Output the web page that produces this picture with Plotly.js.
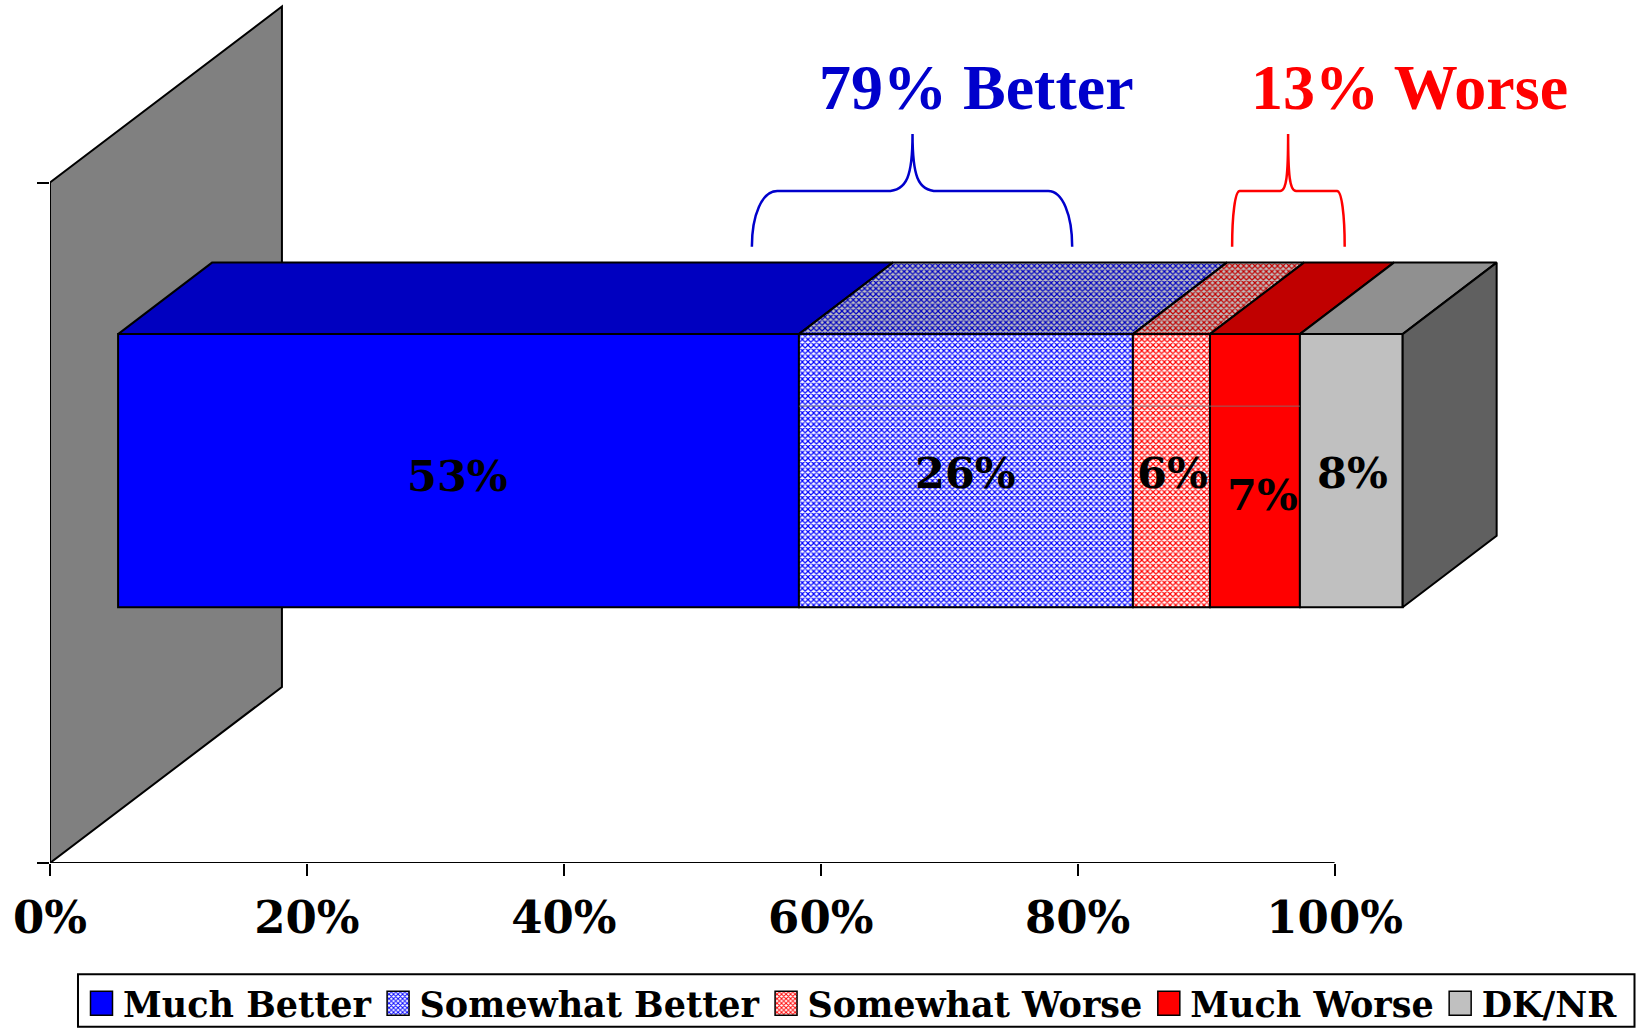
<!DOCTYPE html>
<html><head><meta charset="utf-8">
<script src="https://cdn.plot.ly/plotly-3.0.1.min.js"></script>
<style>html,body{margin:0;padding:0;background:#fff}</style></head>
<body><div id="chart" style="width:1640px;height:1028px"></div>
<script>
const categories = ["Much Better","Somewhat Better","Somewhat Worse","Much Worse","DK/NR"];
const values = [53,26,6,7,8];
const frontColors = ["#0000FF","#0000FF","#FF0000","#FF0000","#C0C0C0"];
const topColors = ["#0000C0","#0000C0","#C00000","#C00000","#909090"];
const patterned = [false,true,true,false,false];
const tickVals = [0,20,40,60,80,100];
const tickText = ["0%","20%","40%","60%","80%","100%"];
const labelShiftX = [-1,0,1,8,1];
const labelShiftY = [-5,-2,-2,-24,-2];
const summaryText = ["79% Better","13% Worse"];
const summaryColor = ["#0000CC","#FF0000"];

// geometry of the 3-D look, in axis units
const X0=49.5, PXX=12.85, Y0=862.7, PXY=680.2;
const xMax=(1640-X0)/PXX, yMax=Y0/PXY;
const ux=p=>(p-X0)/PXX, uy=p=>(Y0-p)/PXY;
const barOffset=5.3, barBottom=uy(607), barTop=uy(334);
const depthX=94/PXX, depthY=71.5/PXY, wallX=232/PXX, wallY=176/PXY;
const FONT="DejaVu Serif", SERIF="Liberation Serif";
const EDGE=2;

let cum=0; const bases=values.map(v=>{const b=cum+barOffset;cum+=v;return b;});
const end=cum+barOffset;

const traces=[];
// front faces: real bars
values.forEach((v,i)=>{
  traces.push({type:"bar",orientation:"h",name:categories[i],y:[(barTop+barBottom)/2],x:[v],base:[bases[i]],
    width:[barTop-barBottom],hoverinfo:"skip",
    marker:{color:frontColors[i],line:{color:"#000",width:EDGE},
      pattern: patterned[i]?{shape:"x",size:4,solidity:0.5,fgcolor:frontColors[i],bgcolor:"#FFFFFF",fillmode:"replace"}:{shape:""}}});
});
// top faces
values.forEach((v,i)=>{
  const b=bases[i];
  const t={type:"scatter",mode:"lines",showlegend:false,hoverinfo:"skip",fill:"toself",
    x:[b,b+depthX,b+v+depthX,b+v,b],y:[barTop,barTop+depthY,barTop+depthY,barTop,barTop],
    line:{color:"#000",width:EDGE},fillcolor:topColors[i]};
  if(patterned[i]) t.fillpattern={shape:"x",size:4,solidity:0.5,fgcolor:topColors[i],bgcolor:"#C0C0C0",fillmode:"replace"};
  traces.push(t);
});
// right side face
traces.push({type:"scatter",mode:"lines",showlegend:false,hoverinfo:"skip",fill:"toself",
  x:[end,end+depthX,end+depthX,end,end],y:[barTop,barTop+depthY,barBottom+depthY,barBottom,barTop],
  line:{color:"#000",width:EDGE},fillcolor:"#606060"});
// x axis baseline
traces.push({type:"scatter",mode:"lines",showlegend:false,hoverinfo:"skip",x:[0,100],y:[0,0],line:{color:"#000",width:2},cliponaxis:false});
// faint line across the bar
traces.push({type:"scatter",mode:"lines",showlegend:false,hoverinfo:"skip",x:[bases[1],bases[3]+values[3]],y:[uy(406),uy(406)],line:{color:"rgba(120,120,120,0.8)",width:1}});

function brace(l,s1,s2,tip,s3,s4,r,col){
  const yf=uy(246.7), yh=uy(191), yt=uy(134);
  const P=(x,y)=>ux(x)+","+y;
  const mL=(tip-s2), mR=(s3-tip);
  const d="M"+P(l,yf)+" C"+P(l,uy(215))+" "+P(l+(s1-l)*0.4,yh)+" "+P(s1,yh)+
    " L"+P(s2,yh)+" C"+P(tip-mL*0.2,yh)+" "+P(tip,uy(175))+" "+P(tip,yt)+
    " C"+P(tip,uy(175))+" "+P(tip+mR*0.2,yh)+" "+P(s3,yh)+
    " L"+P(s4,yh)+" C"+P(r-(r-s4)*0.4,yh)+" "+P(r,uy(215))+" "+P(r,yf);
  return {type:"path",xref:"x",yref:"y",path:d,line:{color:col,width:2.5},layer:"above"};
}
const fx=p=>(p-X0)/(1640-X0), fy=p=>(Y0-p)/Y0;
const shapes=[
  {type:"path",xref:"x",yref:"y",layer:"below",fillcolor:"#808080",line:{color:"#000",width:EDGE},
   path:"M0,0 L0,1 L"+wallX+","+(1+wallY)+" L"+wallX+","+wallY+" Z"},
  brace(751.6,777,886.5,912.3,937,1048,1072,summaryColor[0]),
  brace(1232,1239.5,1280,1288,1296,1337,1344.6,summaryColor[1]),
  {type:"rect",xref:"paper",yref:"paper",layer:"below",x0:fx(77.5),x1:fx(1634.5),y0:fy(1026.5),y1:fy(974),line:{color:"#000",width:2},fillcolor:"#fff"}
];

const annotations=values.map((v,i)=>({xref:"x",yref:"y",x:bases[i]+v/2,y:(barTop+barBottom)/2,xanchor:"center",yanchor:"middle",
  text:v+"%",showarrow:false,xshift:labelShiftX[i],yshift:labelShiftY[i],font:{family:FONT,size:43,color:"#000",weight:700}}));
annotations.push({xref:"x",yref:"y",x:ux(976),y:uy(87),xanchor:"center",yanchor:"middle",showarrow:false,text:summaryText[0],font:{family:SERIF,size:64,color:summaryColor[0],weight:700}});
annotations.push({xref:"x",yref:"y",x:ux(1409),y:uy(87),xanchor:"center",yanchor:"middle",showarrow:false,text:summaryText[1],font:{family:SERIF,size:64,color:summaryColor[1],weight:700}});

const layout={width:1640,height:1028,paper_bgcolor:"#fff",plot_bgcolor:"rgba(0,0,0,0)",barmode:"overlay",showlegend:true,
  margin:{l:X0,r:0,t:0,b:1028-Y0,pad:0},
  xaxis:{range:[0,xMax],tickmode:"array",tickvals:tickVals,ticktext:tickText,ticks:"outside",ticklen:12,tickwidth:1.5,tickcolor:"#000",
    showgrid:false,zeroline:false,showline:false,tickfont:{family:FONT,size:45,color:"#000",weight:700},ticklabelstandoff:3},
  yaxis:{range:[0,yMax],tickmode:"array",tickvals:[0,1],ticks:"outside",ticklen:12,tickwidth:1.5,tickcolor:"#000",
    showticklabels:false,showgrid:false,zeroline:false,showline:false},
  legend:{orientation:"h",xref:"container",yref:"container",x:80/1640,xanchor:"left",y:(1028-974)/1028,yanchor:"top",bgcolor:"rgba(0,0,0,0)",borderwidth:0,itemwidth:33,
    font:{family:FONT,size:35,color:"#000",weight:700},traceorder:"normal",itemclick:false,itemdoubleclick:false},
  shapes:shapes,annotations:annotations};
Plotly.newPlot("chart",traces,layout,{displayModeBar:false,responsive:false}).then(gd=>{
  // enlarge the legend keys to the reference's size
  gd.querySelectorAll(".legend .legendbar path, .legend .legendpoints path").forEach(p=>{
    p.setAttribute("d","M11,12H-11V-12H11Z");
    p.style.strokeWidth="1.5px"; p.style.stroke="#000";
  });
});
</script></body></html>
